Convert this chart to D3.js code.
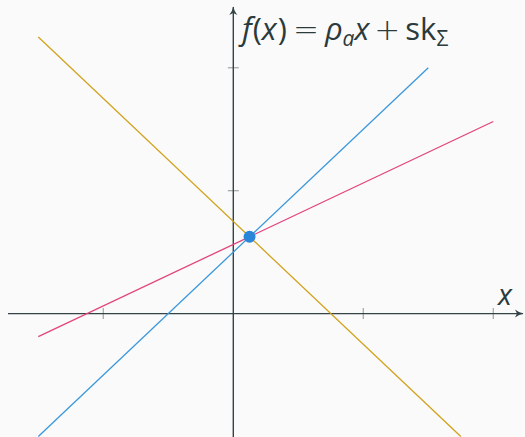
<!DOCTYPE html>
<html>
<head>
<meta charset="utf-8">
<script src="https://cdn.jsdelivr.net/npm/d3@7"></script>
<style>
  html, body { margin: 0; padding: 0; background: #fafafa; }
  svg { display: block; }
  text { font-family: "Open Sans", "Noto Sans", sans-serif; fill: #2b3a3c; }
</style>
</head>
<body>
<svg id="chart" width="525" height="437"></svg>
<script>
// Three straight lines f(x) = slope * x + intercept, each drawn over its own x-range
const lineNames = ["blue", "pink", "orange"];
const slopes = [1, 0.5, -1];
const intercepts = [0.5, 0.5625, 0.75];
const xStarts = [-1.5, -1.5, -1.5];
const xEnds = [1.5, 2.0, 1.75];
const lineColors = ["#3a97dc", "#e2447c", "#d1a21c"];

// Common intersection point
const pointX = [0.125];
const pointY = [0.625];

// Axis ticks
const xTicks = [-1, 1, 2];
const yTicks = [1, 2];

const W = 525, H = 437;
const svg = d3.select("#chart");

const x = d3.scaleLinear().domain([-1.78, 2.22]).range([1.9, 521.9]);
const y = d3.scaleLinear().domain([-1.004, 2.551]).range([437, 0]);

const axisColor = "#344446";
const tickColor = "#a8acac";

// Arrowhead marker for both axes
svg.append("defs").append("marker")
  .attr("id", "arrow")
  .attr("viewBox", "0 0 10 10")
  .attr("refX", 9).attr("refY", 5)
  .attr("markerWidth", 10).attr("markerHeight", 10)
  .attr("markerUnits", "userSpaceOnUse")
  .attr("orient", "auto")
  .append("path")
  .attr("d", "M1,1 Q5,4.2 9.5,5 Q5,5.8 1,9 L3,5 Z")
  .attr("fill", axisColor);

// Ticks (drawn across the axis, under the axis lines)
svg.append("g").selectAll("line.xt").data(xTicks).join("line")
  .attr("x1", d => x(d)).attr("x2", d => x(d))
  .attr("y1", y(0) - 5.5).attr("y2", y(0) + 5.5)
  .attr("stroke", tickColor).attr("stroke-width", 1.3);
svg.append("g").selectAll("line.yt").data(yTicks).join("line")
  .attr("x1", x(0) - 5.5).attr("x2", x(0) + 5.5)
  .attr("y1", d => y(d)).attr("y2", d => y(d))
  .attr("stroke", tickColor).attr("stroke-width", 1.3);

// Axes
svg.append("line")
  .attr("x1", 8).attr("x2", 523)
  .attr("y1", y(0)).attr("y2", y(0))
  .attr("stroke", axisColor).attr("stroke-width", 1.4)
  .attr("marker-end", "url(#arrow)");
svg.append("line")
  .attr("x1", x(0)).attr("x2", x(0))
  .attr("y1", H).attr("y2", 7)
  .attr("stroke", axisColor).attr("stroke-width", 1.4)
  .attr("marker-end", "url(#arrow)");

// Lines
const lineData = lineNames.map((n, i) => ({
  name: n,
  color: lineColors[i],
  pts: [xStarts[i], xEnds[i]].map(t => [t, slopes[i] * t + intercepts[i]])
}));
const lineGen = d3.line().x(d => x(d[0])).y(d => y(d[1]));
svg.append("g").selectAll("path").data(lineData).join("path")
  .attr("d", d => lineGen(d.pts))
  .attr("fill", "none")
  .attr("stroke", d => d.color)
  .attr("stroke-width", 1.3);

// Intersection point
svg.append("g").selectAll("circle").data(pointX).join("circle")
  .attr("cx", (d, i) => x(d)).attr("cy", (d, i) => y(pointY[i]))
  .attr("r", 6)
  .attr("fill", "#2a86d8");

// Axis labels: [text, style, position, extra space before]
const title = svg.append("text")
  .attr("x", 242).attr("y", 40)
  .attr("font-size", 31);
const parts = [
  ["f", "italic", null, 0], ["(", "normal", null, 1], ["x", "italic", null, 0], [")", "normal", null, 1],
  ["=", "normal", null, 6], ["ρ", "italic", null, 6], ["a", "italic", "sub", 0],
  ["x", "italic", null, 0], ["+", "normal", null, 5], ["sk", "normal", null, 5], ["Σ", "normal", "sub", 0]
];
let shifted = false;
parts.forEach(([t, style, pos, gap]) => {
  const ts = title.append("tspan").text(t).attr("font-style", style);
  let dy = 0;
  if (pos === "sub") {
    ts.attr("font-size", 21);
    dy = 6;
    shifted = true;
  } else if (shifted) {
    dy = -6;
    shifted = false;
  }
  if (dy) ts.attr("dy", dy);
  if (gap) ts.attr("dx", gap);
  if (t === "=" || t === "+") {
    ts.style("font-family", "'DejaVu Sans', sans-serif").attr("font-weight", 200);
  }
});

svg.append("text")
  .attr("x", 498).attr("y", 305)
  .attr("font-size", 29)
  .attr("font-style", "italic")
  .text("x");
</script>
</body>
</html>
